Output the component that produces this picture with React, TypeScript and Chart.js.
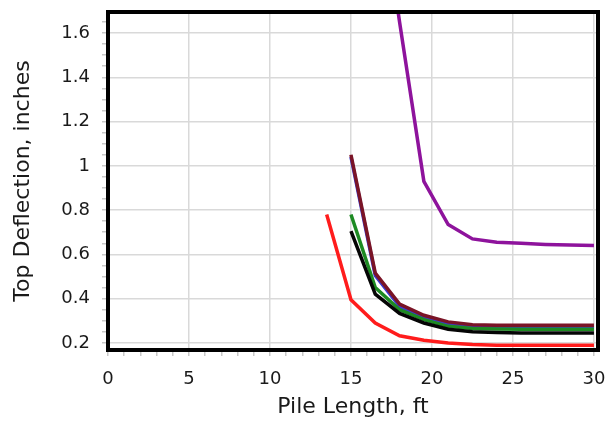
import React, { useEffect, useRef } from "react";
import { Chart, registerables } from "chart.js";

Chart.register(...registerables);

const pileLengths = [13.5, 15, 16.5, 18, 19.5, 21, 22.5, 24, 25.5, 27, 28.5, 30];
const redSeries = [0.78, 0.395, 0.29, 0.232, 0.212, 0.2, 0.193, 0.19, 0.19, 0.19, 0.19, 0.19];
const maroonSeries = [null, 1.05, 0.515, 0.375, 0.325, 0.295, 0.282, 0.28, 0.28, 0.28, 0.28, 0.28];
const blueSeries = [null, 1.04, 0.505, 0.365, 0.315, 0.285, 0.273, 0.271, 0.27, 0.27, 0.27, 0.27];
const greenSeries = [null, 0.78, 0.45, 0.35, 0.305, 0.275, 0.265, 0.263, 0.262, 0.262, 0.262, 0.262];
const blackSeries = [null, 0.705, 0.42, 0.333, 0.29, 0.262, 0.25, 0.247, 0.245, 0.245, 0.245, 0.245];
const purpleSeries = [null, null, 2.4, 1.65, 0.93, 0.735, 0.67, 0.655, 0.65, 0.645, 0.642, 0.64];

const xTitle = "Pile Length, ft";
const yTitle = "Top Deflection, inches";

const toPoints = (ys: (number | null)[]) =>
  pileLengths.map((x, i) => ({ x, y: ys[i] })).filter((p) => p.y !== null);

const FONT = "'DejaVu Sans', Verdana, sans-serif";

const framePlugin = {
  id: "frame",
  afterDatasetsDraw(chart: any) {
    const { ctx, chartArea } = chart;
    ctx.save();
    ctx.strokeStyle = "#000";
    ctx.lineWidth = 4;
    ctx.strokeRect(chartArea.left, chartArea.top, chartArea.right - chartArea.left, chartArea.bottom - chartArea.top);
    ctx.restore();
  },
};

const isMult = (v: number, step: number) => Math.abs(v / step - Math.round(v / step)) < 1e-6;

const zeroPad = (s: any) => {
  s.paddingLeft = 0;
  s.paddingRight = 0;
  s.paddingTop = 0;
  s.paddingBottom = 0;
};

export default function App() {
  const ref = useRef<HTMLCanvasElement>(null);
  useEffect(() => {
    if (!ref.current) return;
    const mk = (label: string, ys: (number | null)[], color: string) => ({
      label,
      data: toPoints(ys),
      borderColor: color,
      backgroundColor: color,
      borderWidth: 3.5,
      pointRadius: 0,
      tension: 0,
      fill: false,
    });
    const chart = new Chart(ref.current, {
      type: "line",
      data: {
        datasets: [
          mk("A", redSeries, "#ff1c1c"),
          mk("B", purpleSeries, "#8e139c"),
          mk("C", blackSeries, "#050505"),
          mk("D", greenSeries, "#1d8a22"),
          mk("E", maroonSeries, "#7a1426"),
          mk("F", blueSeries, "#3a3ad0"),
        ],
      },
      plugins: [framePlugin],
      options: {
        animation: false,
        responsive: false,
        maintainAspectRatio: false,
        layout: { padding: { top: 12, right: 15, left: 0, bottom: 0 } },
        plugins: { legend: { display: false }, tooltip: { enabled: false } },
        scales: {
          x: {
            type: "linear",
            min: 0,
            max: 30.25,
            border: { display: false },
            afterFit: (s: any) => {
              s.height = 84;
              zeroPad(s);
            },
            ticks: {
              stepSize: 1,
              autoSkip: false,
              includeBounds: false,
              maxRotation: 0,
              padding: 13,
              color: "#1a1a1a",
              font: { family: FONT, size: 18 },
              callback: (v: any) => (isMult(Number(v), 5) ? String(Math.round(Number(v))) : ""),
            },
            grid: {
              color: (c: any) => (c.tick && isMult(c.tick.value, 5) ? "#d9d9d9" : "rgba(0,0,0,0)"),
              lineWidth: 1.5,
              tickColor: "#c8c8c8",
              tickLength: 6,
            },
            title: {
              display: true,
              text: xTitle,
              color: "#1a1a1a",
              font: { family: FONT, size: 22 },
              padding: { top: 0, bottom: 14 },
            },
          },
          y: {
            type: "linear",
            min: 0.168,
            max: 1.695,
            border: { display: false },
            afterFit: (s: any) => {
              s.width = 108;
              zeroPad(s);
            },
            ticks: {
              stepSize: 0.05,
              autoSkip: false,
              includeBounds: false,
              padding: 12,
              color: "#1a1a1a",
              font: { family: FONT, size: 18 },
              callback: (v: any) => (isMult(Number(v), 0.2) ? String(Math.round(Number(v) * 10) / 10) : ""),
            },
            grid: {
              color: (c: any) => (c.tick && isMult(c.tick.value, 0.2) ? "#d9d9d9" : "rgba(0,0,0,0)"),
              lineWidth: 1.5,
              tickColor: "#c8c8c8",
              tickLength: 6,
            },
            title: {
              display: true,
              text: yTitle,
              color: "#1a1a1a",
              font: { family: FONT, size: 22 },
              padding: { top: 10, bottom: 0 },
            },
          },
        },
      },
    } as any);
    return () => chart.destroy();
  }, []);
  return (
    <div style={{ position: "fixed", left: 0, top: 0, width: 613, height: 434, background: "#fff" }}>
      <canvas ref={ref} width={613} height={434} style={{ width: 613, height: 434 }} />
    </div>
  );
}
